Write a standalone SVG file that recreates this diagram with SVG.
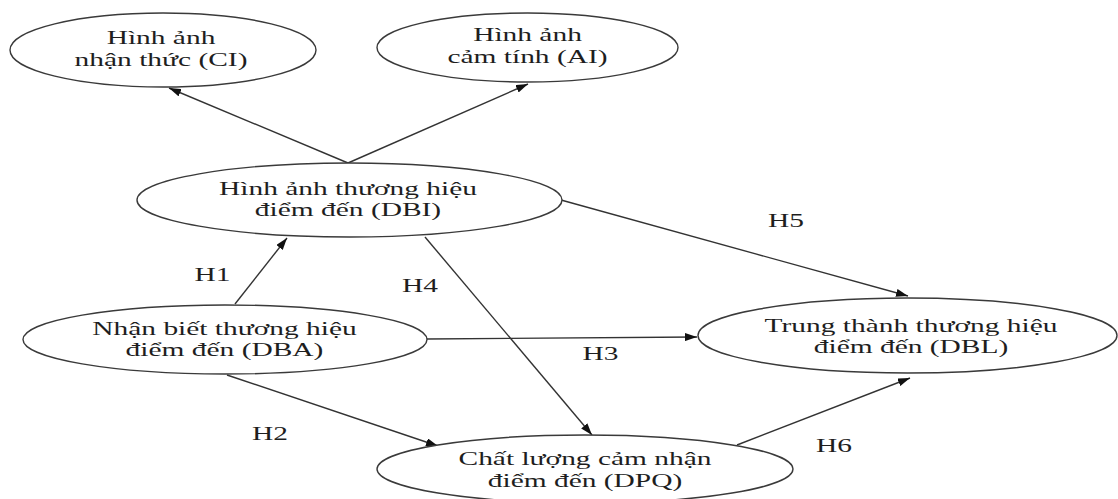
<svg xmlns="http://www.w3.org/2000/svg" width="1118" height="499" viewBox="0 0 1118 499">
<style>
.node ellipse{fill:#fff;stroke:#3a3a3a;stroke-width:1.4}
.lbl{font-family:"Liberation Serif","Times New Roman",serif;font-size:19px;fill:#1e1e1e;text-anchor:middle}
.edge{stroke:#333;stroke-width:1.4;fill:none;marker-end:url(#ah)}
</style>
<defs>
<marker id="ah" viewBox="0 0 12 8" refX="12" refY="4" markerWidth="12" markerHeight="8" markerUnits="userSpaceOnUse" orient="auto">
<path d="M0,0 L12,4 L0,8 z" fill="#111"/>
</marker>
</defs>
<rect width="1118" height="499" fill="#fff"/>
<g id="connectors">
<line class="edge" x1="348" y1="163" x2="169" y2="88"/>
<line class="edge" x1="348" y1="163" x2="528" y2="84"/>
<line class="edge" x1="235" y1="304" x2="287" y2="238"/>
<line class="edge" x1="425" y1="237" x2="592" y2="435"/>
<line class="edge" x1="561" y1="200" x2="908" y2="296"/>
<line class="edge" x1="427" y1="339" x2="697" y2="337"/>
<line class="edge" x1="227" y1="375" x2="438" y2="446"/>
<line class="edge" x1="737" y1="445" x2="910" y2="378"/>
</g>
<g id="CI" class="node">
<ellipse cx="163" cy="50" rx="153" ry="37"/>
<text class="lbl" transform="translate(161,0) scale(1.55,1)"><tspan x="0" y="44.5">Hình ảnh</tspan><tspan x="0" y="66">nhận thức (CI)</tspan></text>
</g>
<g id="AI" class="node">
<ellipse cx="527.5" cy="47.5" rx="150.5" ry="34.5"/>
<text class="lbl" transform="translate(527.5,0) scale(1.55,1)"><tspan x="0" y="41.5">Hình ảnh</tspan><tspan x="0" y="63">cảm tính (AI)</tspan></text>
</g>
<g id="DBI" class="node">
<ellipse cx="349.5" cy="200" rx="212.5" ry="37"/>
<text class="lbl" transform="translate(348,0) scale(1.55,1)"><tspan x="0" y="195">Hình ảnh thương hiệu</tspan><tspan x="0" y="216.5">điểm đến (DBI)</tspan></text>
</g>
<g id="DBA" class="node">
<ellipse cx="225" cy="339.5" rx="202" ry="34.5"/>
<text class="lbl" transform="translate(224.5,0) scale(1.55,1)"><tspan x="0" y="335">Nhận biết thương hiệu</tspan><tspan x="0" y="356.5">điểm đến (DBA)</tspan></text>
</g>
<g id="DBL" class="node">
<ellipse cx="907.5" cy="335.5" rx="209.5" ry="37.5"/>
<text class="lbl" transform="translate(911,0) scale(1.55,1)"><tspan x="0" y="332">Trung thành thương hiệu</tspan><tspan x="0" y="353.5">điểm đến (DBL)</tspan></text>
</g>
<g id="DPQ" class="node">
<ellipse cx="585" cy="469" rx="208" ry="34"/>
<text class="lbl" transform="translate(585,0) scale(1.55,1)"><tspan x="0" y="465.5">Chất lượng cảm nhận</tspan><tspan x="0" y="487">điểm đến (DPQ)</tspan></text>
</g>
<g id="labels">
<text class="lbl" transform="translate(212.5,0) scale(1.55,1)" x="0" y="281.5">H1</text>
<text class="lbl" transform="translate(270,0) scale(1.55,1)" x="0" y="440">H2</text>
<text class="lbl" transform="translate(600.5,0) scale(1.55,1)" x="0" y="360">H3</text>
<text class="lbl" transform="translate(420,0) scale(1.55,1)" x="0" y="292">H4</text>
<text class="lbl" transform="translate(786,0) scale(1.55,1)" x="0" y="227">H5</text>
<text class="lbl" transform="translate(834,0) scale(1.55,1)" x="0" y="452">H6</text>
</g>
</svg>
